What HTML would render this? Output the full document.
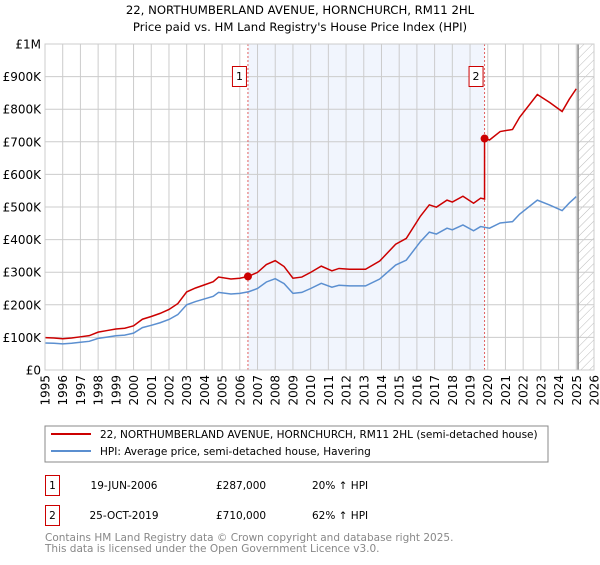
<!DOCTYPE html>
<html><head><meta charset="utf-8"><style>
body{margin:0;background:#fff;font-family:"Liberation Sans","DejaVu Sans",sans-serif;}
svg text{font-family:"DejaVu Sans","Liberation Sans",sans-serif;}
</style></head><body>
<svg id="chart" width="600" height="560" viewBox="0 0 600 560">
<defs><pattern id="hatch" width="6" height="6" patternUnits="userSpaceOnUse" patternTransform="rotate(45)"><line x1="0" y1="0" x2="0" y2="6" stroke="#bbb" stroke-width="1"/></pattern></defs>
<text x="300" y="14" text-anchor="middle" font-size="11.7">22, NORTHUMBERLAND AVENUE, HORNCHURCH, RM11 2HL</text>
<text x="300" y="31" text-anchor="middle" font-size="11.7">Price paid vs. HM Land Registry's House Price Index (HPI)</text>
<g id="plot"></g>
<rect x="45" y="426" width="503" height="36" fill="#fff" stroke="#888"/>
<line x1="51" y1="434" x2="91" y2="434" stroke="#cc0000" stroke-width="2"/>
<text x="100" y="438" font-size="10.5">22, NORTHUMBERLAND AVENUE, HORNCHURCH, RM11 2HL (semi-detached house)</text>
<line x1="51" y1="451" x2="91" y2="451" stroke="#5b8fd0" stroke-width="2"/>
<text x="100" y="455" font-size="10.5">HPI: Average price, semi-detached house, Havering</text>
<g>
<rect x="45.5" y="475.5" width="14" height="20" fill="#fff" stroke="#cc0000"/>
<text x="52.5" y="489" text-anchor="middle" font-size="10.5">1</text>
<text x="124" y="489" text-anchor="middle" font-size="10.5">19-JUN-2006</text>
<text x="216" y="489" font-size="10.5">£287,000</text>
<text x="312" y="489" font-size="10.5">20% ↑ HPI</text></g>
<g>
<rect x="45.5" y="505.5" width="14" height="20" fill="#fff" stroke="#cc0000"/>
<text x="52.5" y="519" text-anchor="middle" font-size="10.5">2</text>
<text x="124" y="519" text-anchor="middle" font-size="10.5">25-OCT-2019</text>
<text x="216" y="519" font-size="10.5">£710,000</text>
<text x="312" y="519" font-size="10.5">62% ↑ HPI</text></g>
<text x="45" y="541" font-size="10.5" fill="#888">Contains HM Land Registry data © Crown copyright and database right 2025.</text>
<text x="45" y="552" font-size="10.5" fill="#888">This data is licensed under the Open Government Licence v3.0.</text>
</svg>
<script>
const hpiYears=[1995,1995.5,1996,1996.5,1997,1997.5,1998,1998.5,1999,1999.5,2000,2000.5,2001,2001.5,2002,2002.5,2003,2003.5,2004,2004.5,2004.8,2005.5,2006,2006.5,2007,2007.5,2008,2008.5,2009,2009.5,2010,2010.6,2011.2,2011.6,2012.2,2013.1,2013.9,2014.8,2015.4,2016.2,2016.7,2017.1,2017.7,2018.0,2018.6,2019.2,2019.6,2020.1,2020.7,2021.4,2021.8,2022.8,2023.5,2024.2,2024.6,2025.0];
const hpiValues=[83,82,80,82,85,88,97,101,105,107,113,130,137,145,155,170,200,210,218,226,238,233,235,240,250,270,280,265,235,238,250,266,254,260,258,258,279,322,337,394,423,417,435,430,445,427,440,435,451,455,478,521,506,489,512,532];
const saleYears=[2006.46,2019.82];
const salePrices=[287,710];
const saleLabels=["1","2"];
const yTicks=[0,100,200,300,400,500,600,700,800,900,1000];
const yTickLabels=["£0","£100K","£200K","£300K","£400K","£500K","£600K","£700K","£800K","£900K","£1M"];
const xTicks=[1995,1996,1997,1998,1999,2000,2001,2002,2003,2004,2005,2006,2007,2008,2009,2010,2011,2012,2013,2014,2015,2016,2017,2018,2019,2020,2021,2022,2023,2024,2025,2026];
const forecastStart=2025.1;

const NS="http://www.w3.org/2000/svg";
const X0=45,X1=594,Y0=370,Y1=44;
const xs=y=>X0+(y-1995)/(2026-1995)*(X1-X0);
const ys=v=>Y0-v/1000*(Y0-Y1);
const g=document.getElementById('plot');
function mk(t,a){const e=document.createElementNS(NS,t);for(const k in a)e.setAttribute(k,a[k]);g.appendChild(e);return e;}
function hpiAt(t){for(let i=0;i<hpiYears.length-1;i++){if(t>=hpiYears[i]&&t<=hpiYears[i+1]){const f=(t-hpiYears[i])/(hpiYears[i+1]-hpiYears[i]);return hpiValues[i]+f*(hpiValues[i+1]-hpiValues[i]);}}return hpiValues[hpiValues.length-1];}

const shade=mk('rect',{x:xs(saleYears[0]),y:Y1,width:xs(saleYears[1])-xs(saleYears[0]),height:Y0-Y1,fill:'#eef3fc',opacity:0.8});


const hat=mk('rect',{x:xs(forecastStart),y:Y1,width:X1-xs(forecastStart),height:Y0-Y1,fill:'url(#hatch)'});


yTicks.forEach((v,i)=>{
 const l=mk('line',{x1:X0,x2:X1,y1:ys(v),y2:ys(v),stroke:'#ccc','stroke-width':1});
 
 
 const t=mk('text',{x:X0-4,y:ys(v)+4.5,'text-anchor':'end','font-size':12});
 t.textContent=yTickLabels[i];
 
 
});
xTicks.forEach(yr=>{
 const l=mk('line',{x1:xs(yr),x2:xs(yr),y1:Y1,y2:Y0,stroke:'#ccc','stroke-width':1});
 
 
 const t=mk('text',{x:0,y:0,'text-anchor':'end','font-size':12,transform:`translate(${xs(yr)+4.5},${Y0+5}) rotate(-90)`});
 t.textContent=yr;
 
 
});
const fl=mk('line',{x1:xs(forecastStart),x2:xs(forecastStart),y1:Y1,y2:Y0,stroke:'#888','stroke-width':1.5});


saleYears.forEach((yr,i)=>{
 const l=mk('line',{x1:xs(yr),x2:xs(yr),y1:Y1,y2:Y0,stroke:'#e06060','stroke-width':1,'stroke-dasharray':'2,2'});
 
 
});
const hp=mk('polyline',{points:hpiYears.map((y,i)=>xs(y)+','+ys(hpiValues[i])).join(' '),fill:'none',stroke:'#5b8fd0','stroke-width':1.5});


const r1=salePrices[0]/hpiAt(saleYears[0]),r2=salePrices[1]/hpiAt(saleYears[1]);
let pts=[];
hpiYears.forEach((y,i)=>{if(y<saleYears[1])pts.push([y,hpiValues[i]*r1]);});
pts.push([saleYears[1],hpiAt(saleYears[1])*r1]);
pts.push([saleYears[1],salePrices[1]]);
hpiYears.forEach((y,i)=>{if(y>saleYears[1])pts.push([y,hpiValues[i]*r2]);});
const pl=mk('polyline',{points:pts.map(p=>xs(p[0])+','+ys(p[1])).join(' '),fill:'none',stroke:'#cc0000','stroke-width':1.5});


saleYears.forEach((yr,i)=>{
 const c=mk('circle',{cx:xs(yr),cy:ys(salePrices[i]),r:4,fill:'#cc0000'});
 
 
 const b=mk('rect',{x:xs(yr)-15.5,y:66.5,width:14,height:20,fill:'#fff',stroke:'#cc0000'});
 
 
 const t=mk('text',{x:xs(yr)-8.5,y:80,'text-anchor':'middle','font-size':11});
 t.textContent=saleLabels[i];
 
 
});
const fr=mk('rect',{x:X0,y:Y1,width:X1-X0,height:Y0-Y1,fill:'none',stroke:'#ccc'});


</script>
</body></html>
